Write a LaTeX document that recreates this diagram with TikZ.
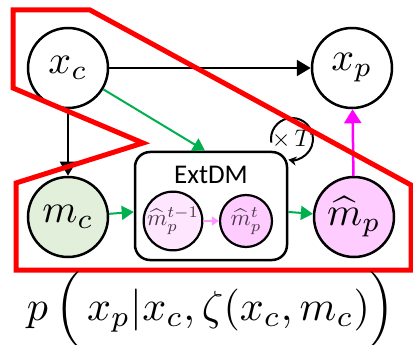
\documentclass[tikz,border=0pt]{standalone}
\usepackage{fontspec}
\usepackage{graphicx}
\newfontfamily\calibri{Carlito}
\usetikzlibrary{arrows.meta}
\definecolor{ctxgreen}{HTML}{E2EFDA}
\definecolor{predpink}{HTML}{FFCCFF}
\definecolor{prevpink}{HTML}{FFE6FF}
\definecolor{arrgreen}{HTML}{00B050}
\definecolor{arrmagenta}{HTML}{FF00FF}
\definecolor{arrpink}{HTML}{FF99FF}
\definecolor{labgray}{HTML}{4A3A4A}
% math at a given scale of 10pt
\newcommand{\bigmath}[2]{\scalebox{#1}{$#2$}}

\begin{document}
\begin{tikzpicture}[
    x=1pt, y=-1pt,
    var/.style={draw, circle, line width=2.5pt, minimum size=80pt, inner sep=0pt},
    sub/.style={draw, circle, line width=2.2pt, minimum size=52pt, inner sep=0pt,
                text=labgray},
    blk/.style={-{Triangle[length=14pt,width=16pt]}, line width=2.5pt},
    grn/.style={-{Triangle[length=12pt,width=14pt]}, line width=2pt, color=arrgreen},
    mag/.style={-{Triangle[length=14pt,width=17pt]}, line width=2.5pt, color=arrmagenta},
]
    \useasboundingbox (0,0) rectangle (413,345);

    \node[var] (xc) at (68,68) {\bigmath{4}{x_c}};
    \node[var] (xp) at (352,68) {\bigmath{4}{x_p}};
    \node[var, fill=ctxgreen] (mc) at (68,217) {\bigmath{4}{m_c}};
    \node[var, fill=predpink] (mp) at (354,217) {\bigmath{4}{\widehat{m}_p}};

    \node[draw, rounded corners=15pt, line width=2.5pt, minimum width=152pt,
          minimum height=108pt] (ext) at (211,206) {};
    \node[font=\calibri\fontsize{27}{30}\selectfont] (extlbl) at (211,175) {ExtDM};
    \node[sub, fill=prevpink] (prev) at (173,221) {\bigmath{2.3}{\widehat{m}_p^{t-1}}};
    \node[sub, fill=predpink] (curr) at (246,221) {\bigmath{2.3}{\widehat{m}_p^{t}}};

    \node (loop) at (292,139) {\bigmath{2.4}{{\times}\,T}};
    \draw[-{Stealth[length=8pt,width=9pt]}, line width=2pt]
        ([shift={(-190:21)}]loop.center) arc[start angle=-190, end angle=100, radius=21];

    % arrows
    \draw[blk] (xc) -- (xp);
    \draw[blk] (xc) -- (mc);
    \draw[grn] (xc) -- ([xshift=-6pt]ext.north);
    \draw[grn] (mc) -- (ext);
    \draw[grn] (ext) -- (mp);
    \draw[-{Triangle[length=7pt,width=9pt]}, line width=1.8pt, color=arrpink] (prev) -- (curr);
    \draw[mag] (mp) -- (xp);

    % outline
    \draw[red, line width=5pt, line join=miter]
        (13,10) -- (90,10) -- (411,185) -- (411,270) -- (16,270) -- (16,183)
        -- (143,143) -- (13,88) -- cycle;

    \node[anchor=base, inner sep=0pt] (lik) at (211,320)
        {\bigmath{4.2}{p\,\Big(\,x_p|x_c,\zeta(x_c,m_c)\Big)}};
\end{tikzpicture}
\end{document}
